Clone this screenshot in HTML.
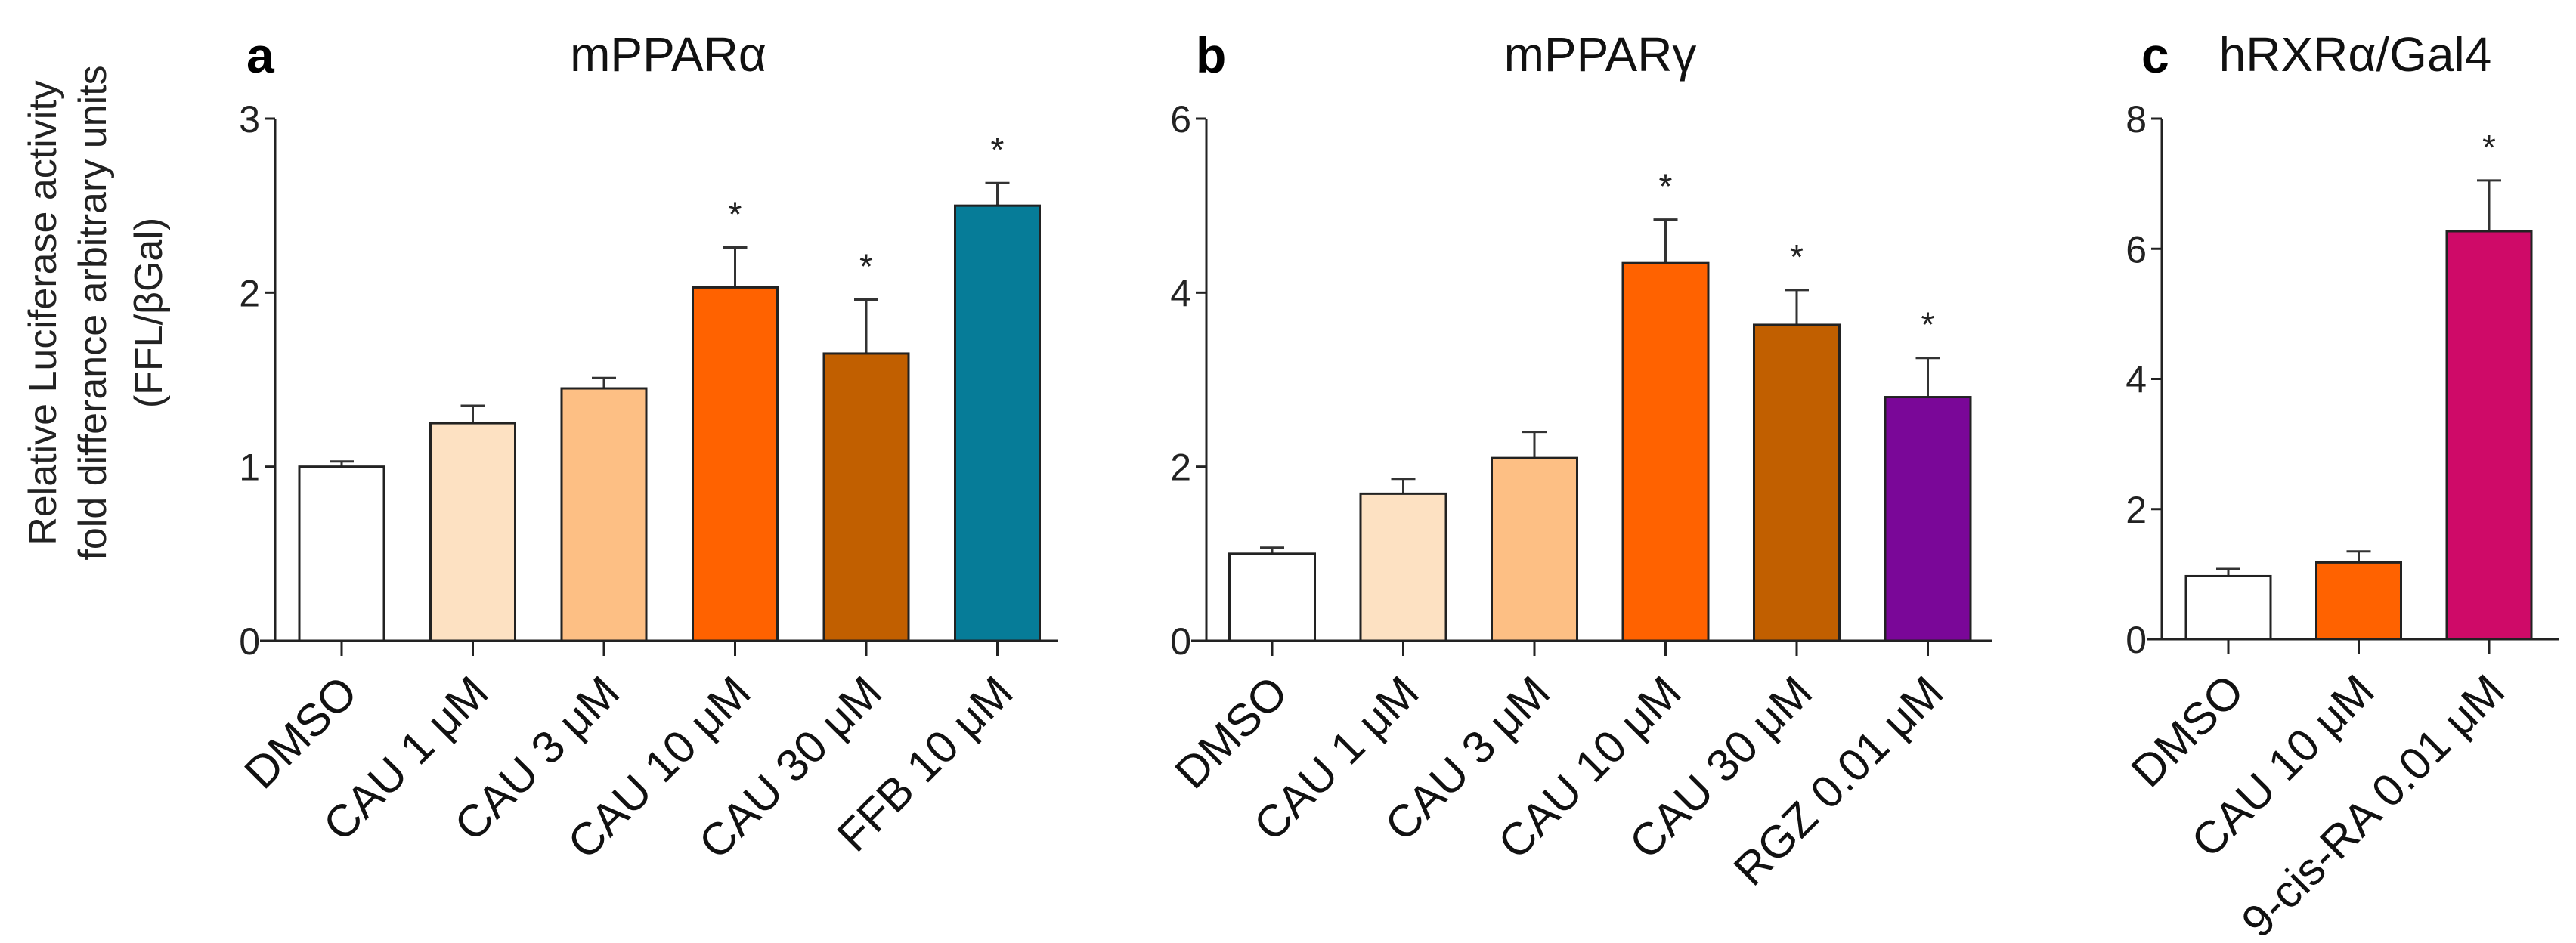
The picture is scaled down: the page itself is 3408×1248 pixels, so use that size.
<!DOCTYPE html>
<html><head><meta charset="utf-8"><style>
html,body{margin:0;padding:0;background:#fff;}
svg{display:block;font-family:"Liberation Sans",Arial,sans-serif;}
</style></head><body>
<svg id="chart" width="3408" height="1248" viewBox="0 0 3408 1248">
<g font-size="52" fill="#222" text-anchor="middle">
<text transform="translate(74,414) rotate(-90)">Relative Luciferase activity</text>
<text transform="translate(140,414) rotate(-90)">fold differance arbitrary units</text>
<text transform="translate(214,414) rotate(-90)">(FFL/βGal)</text>
</g>
</svg>
<script>
// Panel a: mPPARα
const catsA = ["DMSO","CAU 1 μM","CAU 3 μM","CAU 10 μM","CAU 30 μM","FFB 10 μM"];
const valsA = [1.0,1.25,1.45,2.03,1.65,2.5];
const errA = [0.03,0.10,0.06,0.23,0.31,0.13];
const sigA = [false,false,false,true,true,true];
const ticksA = [0,1,2,3];
// Panel b: mPPARγ
const catsB = ["DMSO","CAU 1 μM","CAU 3 μM","CAU 10 μM","CAU 30 μM","RGZ 0.01 μM"];
const valsB = [1.0,1.69,2.10,4.34,3.63,2.80];
const errB = [0.07,0.17,0.30,0.50,0.40,0.45];
const sigB = [false,false,false,true,true,true];
const ticksB = [0,2,4,6];
// Panel c: hRXRα/Gal4
const catsC = ["DMSO","CAU 10 μM","9-cis-RA 0.01 μM"];
const valsC = [0.97,1.18,6.27];
const errC = [0.11,0.17,0.78];
const sigC = [false,false,true];
const ticksC = [0,2,4,6,8];

const NS="http://www.w3.org/2000/svg";
const svg=document.getElementById('chart');
function mk(tag,attrs,parent){const e=document.createElementNS(NS,tag);for(const k in attrs)e.setAttribute(k,attrs[k]);(parent||svg).appendChild(e);return e;}

function panel(cfg){
  const g=mk('g',{});
  
  
  const ymax=cfg.ticks[cfg.ticks.length-1];
  const y=v=>cfg.y0-(v/ymax)*(cfg.y0-cfg.yTop);
  const x=i=>cfg.x0+i*cfg.step;
  const L=mk('text',{x:cfg.letterX,y:96,'font-size':66,'font-weight':'bold',fill:'#000'},g);
  L.textContent=cfg.letter;
  
  
  const T=mk('text',{x:cfg.titleX,y:94,'font-size':64,'text-anchor':'middle',fill:'#111'},g);
  T.textContent=cfg.title;
  
  
  const ya=mk('line',{x1:cfg.axisX,y1:y(ymax),x2:cfg.axisX,y2:cfg.y0,stroke:'#222','stroke-width':3},g);
  
  
  cfg.ticks.forEach(t=>{
    mk('line',{x1:cfg.axisX-14,y1:y(t),x2:cfg.axisX,y2:y(t),stroke:'#222','stroke-width':3},g);
    const tl=mk('text',{x:cfg.axisX-20,y:y(t)+18,'font-size':50,'text-anchor':'end',fill:'#222'},g);
    tl.textContent=t;
    
    
  });
  cfg.vals.forEach((v,i)=>{
    const cx=x(i);
    const top=y(v+cfg.err[i]);
    mk('line',{x1:cx,y1:y(v),x2:cx,y2:top,stroke:'#333','stroke-width':3},g);
    mk('line',{x1:cx-16,y1:top,x2:cx+16,y2:top,stroke:'#333','stroke-width':3},g);
    const b=mk('rect',{x:cx-cfg.bw/2,y:y(v),width:cfg.bw,height:cfg.y0-y(v),fill:cfg.colors[i],stroke:'#222','stroke-width':3},g);
    
    
    if(cfg.sig[i]){
      const s=mk('text',{x:cx,y:top-28,'font-size':46,'text-anchor':'middle',fill:'#222'},g);
      s.textContent='*';
      
      
    }
    mk('line',{x1:cx,y1:cfg.y0,x2:cx,y2:cfg.y0+20,stroke:'#222','stroke-width':3},g);
    const xl=mk('text',{transform:`translate(${cx+24},${cfg.y0+72}) rotate(-45)`,'font-size':60,'text-anchor':'end',fill:'#111'},g);
    xl.textContent=cfg.cats[i];
    
    
  });
  const xa=mk('line',{x1:cfg.axisX-20,y1:cfg.y0,x2:cfg.xEnd,y2:cfg.y0,stroke:'#222','stroke-width':3},g);
  
  
}
panel({name:'panel-a-mppar-alpha',letter:'a',letterX:326,title:'mPPARα',titleX:884,cats:catsA,vals:valsA,err:errA,sig:sigA,ticks:ticksA,
  axisX:364,y0:848,yTop:157,x0:452,step:173.5,bw:112,xEnd:1400,
  colors:['#ffffff','#fde1c2','#fdbf84','#ff6200','#c15f00','#067c98']});
panel({name:'panel-b-mppar-gamma',letter:'b',letterX:1582,title:'mPPARγ',titleX:2117,cats:catsB,vals:valsB,err:errB,sig:sigB,ticks:ticksB,
  axisX:1596,y0:848,yTop:157,x0:1683,step:173.5,bw:113,xEnd:2636,
  colors:['#ffffff','#fde1c2','#fdbf84','#ff6200','#c15f00','#7a0798']});
panel({name:'panel-c-hrxr-alpha',letter:'c',letterX:2833,title:'hRXRα/Gal4',titleX:3116,cats:catsC,vals:valsC,err:errC,sig:sigC,ticks:ticksC,
  axisX:2860,y0:846,yTop:157,x0:2948,step:172.5,bw:112,xEnd:3385,
  colors:['#ffffff','#ff6200','#cf0a68']});
</script>
</body></html>
